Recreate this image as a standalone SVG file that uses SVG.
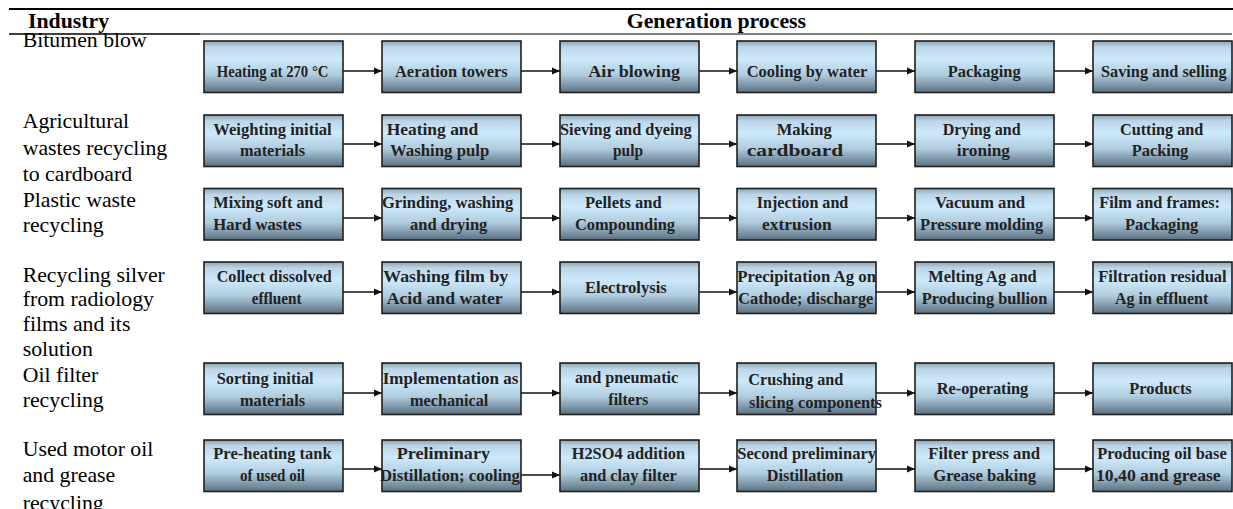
<svg xmlns="http://www.w3.org/2000/svg" width="1233" height="509" viewBox="0 0 1233 509">
<defs>
<linearGradient id="boxg" x1="0" y1="0" x2="0" y2="1">
<stop offset="0" stop-color="#8fa3b0"/>
<stop offset="0.12" stop-color="#bcd6e8"/>
<stop offset="0.35" stop-color="#cde9fb"/>
<stop offset="0.65" stop-color="#b0cde0"/>
<stop offset="1" stop-color="#5a7080"/>
</linearGradient>
<marker id="ah" markerWidth="8" markerHeight="8" refX="8" refY="4" orient="auto" markerUnits="userSpaceOnUse"><path d="M0,0.6 L8,4 L0,7.4 z" fill="#111"/></marker>
</defs>
<style>
.box{fill:url(#boxg);stroke:#1e1e1e;stroke-width:1.6}
.bt{font-family:'Liberation Serif','DejaVu Serif','Times New Roman',serif;font-weight:bold;font-size:17px;fill:#222}
.lab{font-family:'Liberation Serif','DejaVu Serif','Times New Roman',serif;font-size:20px;fill:#000}
.hd{font-family:'Liberation Serif','DejaVu Serif','Times New Roman',serif;font-weight:bold;font-size:20px;fill:#000}
.conn line{stroke:#111;stroke-width:1.4;marker-end:url(#ah)}
.rule{stroke:#000}
</style>
<g id="rules">
<line class="rule" x1="9" y1="9" x2="1233" y2="9" stroke-width="2"/>
<line class="rule" x1="9" y1="34" x2="200" y2="34" stroke-width="1.6"/>
<line class="rule" x1="200" y1="34" x2="1232" y2="34" stroke-width="1.1"/>
</g>
<g id="headers" transform="scale(1.09 1)">
<text class="hd" x="25.7" y="28.5">Industry</text>
<text class="hd" x="575" y="28.5">Generation process</text>
</g>
<g id="labels" transform="scale(1.09 1)">
<g id="lab-bitumen"><text class="lab" x="20.8" y="47">Bitumen blow</text></g>
<g id="lab-agri"><text class="lab" x="20.8" y="128">Agricultural</text><text class="lab" x="20.8" y="155">wastes recycling</text><text class="lab" x="20.8" y="181">to cardboard</text></g>
<g id="lab-plastic"><text class="lab" x="20.8" y="207">Plastic waste</text><text class="lab" x="20.8" y="232">recycling</text></g>
<g id="lab-silver"><text class="lab" x="20.8" y="282">Recycling silver</text><text class="lab" x="20.8" y="306">from radiology</text><text class="lab" x="20.8" y="331">films and its</text><text class="lab" x="20.8" y="356">solution</text></g>
<g id="lab-oilfilter"><text class="lab" x="20.8" y="382">Oil filter</text><text class="lab" x="20.8" y="407">recycling</text></g>
<g id="lab-motoroil"><text class="lab" x="20.8" y="456">Used motor oil</text><text class="lab" x="20.8" y="482">and grease</text><text class="lab" x="20.8" y="510">recycling</text></g>
</g>
<g id="connectors" class="conn">
<line x1="343" y1="71" x2="382" y2="71"/><line x1="521" y1="71" x2="560" y2="71"/><line x1="699" y1="71" x2="737" y2="71"/><line x1="876" y1="71" x2="915" y2="71"/><line x1="1054" y1="71" x2="1093" y2="71"/>
<line x1="343" y1="144" x2="382" y2="144"/><line x1="521" y1="144" x2="560" y2="144"/><line x1="699" y1="144" x2="737" y2="144"/><line x1="876" y1="144" x2="915" y2="144"/><line x1="1054" y1="144" x2="1093" y2="144"/>
<line x1="343" y1="218" x2="382" y2="218"/><line x1="521" y1="218" x2="560" y2="218"/><line x1="699" y1="218" x2="737" y2="218"/><line x1="876" y1="218" x2="915" y2="218"/><line x1="1054" y1="218" x2="1093" y2="218"/>
<line x1="343" y1="292" x2="382" y2="292"/><line x1="521" y1="292" x2="560" y2="292"/><line x1="699" y1="292" x2="737" y2="292"/><line x1="876" y1="292" x2="915" y2="292"/><line x1="1054" y1="292" x2="1093" y2="292"/>
<line x1="343" y1="393" x2="382" y2="393"/><line x1="521" y1="393" x2="560" y2="393"/><line x1="699" y1="393" x2="737" y2="393"/><line x1="876" y1="393" x2="915" y2="393"/><line x1="1054" y1="393" x2="1093" y2="393"/>
<line x1="343" y1="469" x2="382" y2="469"/><line x1="521" y1="475" x2="560" y2="475"/><line x1="699" y1="469" x2="737" y2="469"/><line x1="876" y1="469" x2="915" y2="469"/><line x1="1054" y1="469" x2="1093" y2="469"/>
</g>
<g id="row1">
<g id="n1-1"><rect class="box" x="204" y="41" width="139" height="51.5"/><text class="bt" x="216.7" y="77" textLength="111.7" lengthAdjust="spacingAndGlyphs">Heating at 270 °C</text></g>
<g id="n1-2"><rect class="box" x="382" y="41" width="139" height="51.5"/><text class="bt" x="395" y="77" textLength="112.7" lengthAdjust="spacingAndGlyphs">Aeration towers</text></g>
<g id="n1-3"><rect class="box" x="560" y="41" width="139" height="51.5"/><text class="bt" x="588.3" y="77" textLength="91.7" lengthAdjust="spacingAndGlyphs">Air blowing</text></g>
<g id="n1-4"><rect class="box" x="737" y="41" width="139" height="51.5"/><text class="bt" x="746.7" y="77" textLength="120.6" lengthAdjust="spacingAndGlyphs">Cooling by water</text></g>
<g id="n1-5"><rect class="box" x="915" y="41" width="139" height="51.5"/><text class="bt" x="947.7" y="77" textLength="73" lengthAdjust="spacingAndGlyphs">Packaging</text></g>
<g id="n1-6"><rect class="box" x="1093" y="41" width="139" height="51.5"/><text class="bt" x="1101" y="77" textLength="125.7" lengthAdjust="spacingAndGlyphs">Saving and selling</text></g>
</g>
<g id="row2">
<g id="n2-1"><rect class="box" x="204" y="115" width="139" height="51.5"/><text class="bt" x="213.3" y="135" textLength="118.4" lengthAdjust="spacingAndGlyphs">Weighting initial</text><text class="bt" x="240" y="156" textLength="65" lengthAdjust="spacingAndGlyphs">materials</text></g>
<g id="n2-2"><rect class="box" x="382" y="115" width="139" height="51.5"/><text class="bt" x="386.7" y="135" textLength="91.6" lengthAdjust="spacingAndGlyphs">Heating and</text><text class="bt" x="390" y="156" textLength="99.3" lengthAdjust="spacingAndGlyphs">Washing pulp</text></g>
<g id="n2-3"><rect class="box" x="560" y="115" width="139" height="51.5"/><text class="bt" x="560" y="135" textLength="131.7" lengthAdjust="spacingAndGlyphs">Sieving and dyeing</text><text class="bt" x="613" y="156" textLength="30" lengthAdjust="spacingAndGlyphs">pulp</text></g>
<g id="n2-4"><rect class="box" x="737" y="115" width="139" height="51.5"/><text class="bt" x="776.7" y="135" textLength="55" lengthAdjust="spacingAndGlyphs">Making</text><text class="bt" x="746.7" y="156" textLength="96.6" lengthAdjust="spacingAndGlyphs">cardboard</text></g>
<g id="n2-5"><rect class="box" x="915" y="115" width="139" height="51.5"/><text class="bt" x="942.7" y="135" textLength="78" lengthAdjust="spacingAndGlyphs">Drying and</text><text class="bt" x="956.7" y="156" textLength="53.3" lengthAdjust="spacingAndGlyphs">ironing</text></g>
<g id="n2-6"><rect class="box" x="1093" y="115" width="139" height="51.5"/><text class="bt" x="1120" y="135" textLength="83.3" lengthAdjust="spacingAndGlyphs">Cutting and</text><text class="bt" x="1131.7" y="156" textLength="56.6" lengthAdjust="spacingAndGlyphs">Packing</text></g>
</g>
<g id="row3">
<g id="n3-1"><rect class="box" x="204" y="188.5" width="139" height="51.5"/><text class="bt" x="213.3" y="208" textLength="109.4" lengthAdjust="spacingAndGlyphs">Mixing soft and</text><text class="bt" x="213.3" y="230" textLength="88.4" lengthAdjust="spacingAndGlyphs">Hard wastes</text></g>
<g id="n3-2"><rect class="box" x="382" y="188.5" width="139" height="51.5"/><text class="bt" x="382" y="208" textLength="131.3" lengthAdjust="spacingAndGlyphs">Grinding, washing</text><text class="bt" x="410" y="230" textLength="77.3" lengthAdjust="spacingAndGlyphs">and drying</text></g>
<g id="n3-3"><rect class="box" x="560" y="188.5" width="139" height="51.5"/><text class="bt" x="585" y="208" textLength="76.7" lengthAdjust="spacingAndGlyphs">Pellets and</text><text class="bt" x="575" y="230" textLength="100" lengthAdjust="spacingAndGlyphs">Compounding</text></g>
<g id="n3-4"><rect class="box" x="737" y="188.5" width="139" height="51.5"/><text class="bt" x="756.7" y="208" textLength="91.6" lengthAdjust="spacingAndGlyphs">Injection and</text><text class="bt" x="762" y="230" textLength="69.7" lengthAdjust="spacingAndGlyphs">extrusion</text></g>
<g id="n3-5"><rect class="box" x="915" y="188.5" width="139" height="51.5"/><text class="bt" x="935" y="208" textLength="90" lengthAdjust="spacingAndGlyphs">Vacuum and</text><text class="bt" x="920" y="230" textLength="123.3" lengthAdjust="spacingAndGlyphs">Pressure molding</text></g>
<g id="n3-6"><rect class="box" x="1093" y="188.5" width="139" height="51.5"/><text class="bt" x="1099.3" y="208" textLength="120.7" lengthAdjust="spacingAndGlyphs">Film and frames:</text><text class="bt" x="1125" y="230" textLength="73.3" lengthAdjust="spacingAndGlyphs">Packaging</text></g>
</g>
<g id="row4">
<g id="n4-1"><rect class="box" x="204" y="262" width="139" height="51.5"/><text class="bt" x="216.7" y="282" textLength="115" lengthAdjust="spacingAndGlyphs">Collect dissolved</text><text class="bt" x="251.7" y="304" textLength="50" lengthAdjust="spacingAndGlyphs">effluent</text></g>
<g id="n4-2"><rect class="box" x="382" y="262" width="139" height="51.5"/><text class="bt" x="383.3" y="282" textLength="125" lengthAdjust="spacingAndGlyphs">Washing film by</text><text class="bt" x="386.7" y="304" textLength="116" lengthAdjust="spacingAndGlyphs">Acid and water</text></g>
<g id="n4-3"><rect class="box" x="560" y="262" width="139" height="51.5"/><text class="bt" x="585" y="293" textLength="81.7" lengthAdjust="spacingAndGlyphs">Electrolysis</text></g>
<g id="n4-4"><rect class="box" x="737" y="262" width="139" height="51.5"/><text class="bt" x="737.3" y="282" textLength="138.7" lengthAdjust="spacingAndGlyphs">Precipitation Ag on</text><text class="bt" x="738.3" y="304" textLength="135" lengthAdjust="spacingAndGlyphs">Cathode; discharge</text></g>
<g id="n4-5"><rect class="box" x="915" y="262" width="139" height="51.5"/><text class="bt" x="928.3" y="282" textLength="108.4" lengthAdjust="spacingAndGlyphs">Melting Ag and</text><text class="bt" x="921.7" y="304" textLength="125.6" lengthAdjust="spacingAndGlyphs">Producing bullion</text></g>
<g id="n4-6"><rect class="box" x="1093" y="262" width="139" height="51.5"/><text class="bt" x="1098.3" y="282" textLength="128.4" lengthAdjust="spacingAndGlyphs">Filtration residual</text><text class="bt" x="1115" y="304" textLength="93.3" lengthAdjust="spacingAndGlyphs">Ag in effluent</text></g>
</g>
<g id="row5">
<g id="n5-1"><rect class="box" x="204" y="363" width="139" height="51.5"/><text class="bt" x="216.7" y="384" textLength="97" lengthAdjust="spacingAndGlyphs">Sorting initial</text><text class="bt" x="240" y="406" textLength="65" lengthAdjust="spacingAndGlyphs">materials</text></g>
<g id="n5-2"><rect class="box" x="382" y="363" width="139" height="51.5"/><text class="bt" x="382.7" y="384" textLength="135.6" lengthAdjust="spacingAndGlyphs">Implementation as</text><text class="bt" x="410" y="406" textLength="78.3" lengthAdjust="spacingAndGlyphs">mechanical</text></g>
<g id="n5-3"><rect class="box" x="560" y="363" width="139" height="51.5"/><text class="bt" x="575" y="383" textLength="103.3" lengthAdjust="spacingAndGlyphs">and pneumatic</text><text class="bt" x="608.3" y="405" textLength="40" lengthAdjust="spacingAndGlyphs">filters</text></g>
<g id="n5-4"><rect class="box" x="737" y="363" width="139" height="51.5"/><text class="bt" x="748.3" y="385" textLength="95" lengthAdjust="spacingAndGlyphs">Crushing and</text><text class="bt" x="749" y="408" textLength="133" lengthAdjust="spacingAndGlyphs">slicing components</text></g>
<g id="n5-5"><rect class="box" x="915" y="363" width="139" height="51.5"/><text class="bt" x="936.7" y="394" textLength="91.6" lengthAdjust="spacingAndGlyphs">Re-operating</text></g>
<g id="n5-6"><rect class="box" x="1093" y="363" width="139" height="51.5"/><text class="bt" x="1129.3" y="394" textLength="62.4" lengthAdjust="spacingAndGlyphs">Products</text></g>
</g>
<g id="row6">
<g id="n6-1"><rect class="box" x="204" y="440" width="139" height="51.5"/><text class="bt" x="213.3" y="459" textLength="118.4" lengthAdjust="spacingAndGlyphs">Pre-heating tank</text><text class="bt" x="240" y="481" textLength="65" lengthAdjust="spacingAndGlyphs">of used oil</text></g>
<g id="n6-2"><rect class="box" x="382" y="440" width="139" height="51.5"/><text class="bt" x="396.7" y="459" textLength="93.3" lengthAdjust="spacingAndGlyphs">Preliminary</text><text class="bt" x="380" y="481" textLength="140" lengthAdjust="spacingAndGlyphs">Distillation; cooling</text></g>
<g id="n6-3"><rect class="box" x="560" y="440" width="139" height="51.5"/><text class="bt" x="571.7" y="459" textLength="113.3" lengthAdjust="spacingAndGlyphs">H2SO4 addition</text><text class="bt" x="580" y="481" textLength="96.7" lengthAdjust="spacingAndGlyphs">and clay filter</text></g>
<g id="n6-4"><rect class="box" x="737" y="440" width="139" height="51.5"/><text class="bt" x="737.3" y="459" textLength="138.7" lengthAdjust="spacingAndGlyphs">Second preliminary</text><text class="bt" x="766.7" y="481" textLength="76.6" lengthAdjust="spacingAndGlyphs">Distillation</text></g>
<g id="n6-5"><rect class="box" x="915" y="440" width="139" height="51.5"/><text class="bt" x="928.3" y="459" textLength="111.7" lengthAdjust="spacingAndGlyphs">Filter press and</text><text class="bt" x="933.3" y="481" textLength="102.7" lengthAdjust="spacingAndGlyphs">Grease baking</text></g>
<g id="n6-6"><rect class="box" x="1093" y="440" width="139" height="51.5"/><text class="bt" x="1097.3" y="459" textLength="129.4" lengthAdjust="spacingAndGlyphs">Producing oil base</text><text class="bt" x="1096" y="481" textLength="124.7" lengthAdjust="spacingAndGlyphs">10,40 and grease</text></g>
</g>
</svg>
